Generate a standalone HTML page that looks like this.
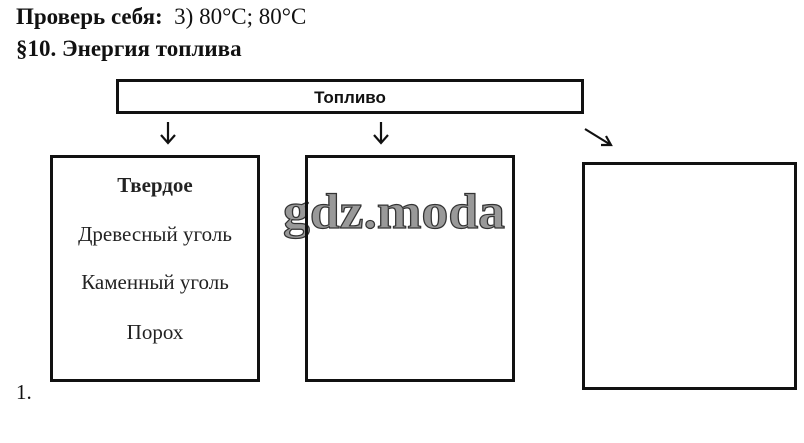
<!DOCTYPE html>
<html><head><meta charset="utf-8"><style>
body{margin:0;width:804px;height:443px;background:#fff;position:relative;overflow:hidden;font-family:"Liberation Serif",serif;color:#111}
.a{position:absolute;white-space:nowrap}
.b{position:absolute;border:3px solid #111;box-sizing:border-box}
.c{position:absolute;text-align:center;font-size:21px;color:#222}
</style></head><body>
<div class="a" style="left:16px;top:4px;font-size:23px"><b>Проверь себя:</b>&nbsp; 3) 80°C; 80°C</div>
<div class="a" style="left:16px;top:36px;font-size:23px;font-weight:bold">§10. Энергия топлива</div>
<div class="b" style="left:116px;top:79px;width:468px;height:35px"></div>
<div class="a" style="left:116px;width:468px;top:88px;text-align:center;font-size:17px;font-weight:bold;font-family:'Liberation Sans',sans-serif">Топливо</div>
<svg class="a" style="left:0;top:0" width="804" height="443">
<g stroke="#111" stroke-width="2.2" fill="none">
<path d="M168 122V143M161 135L168 143L175 135"/>
<path d="M381 122V143M374 135L381 143L388 135"/>
<path d="M585 129L611 145M601 145L611 145L606 136"/>
</g>
<text x="283" y="228" font-family="Liberation Serif" font-size="50" font-weight="bold" textLength="222" lengthAdjust="spacingAndGlyphs" fill="#999" stroke="#333" stroke-width="1.2">gdz.moda</text>
</svg>
<div class="b" style="left:50px;top:155px;width:210px;height:227px"></div>
<div class="b" style="left:305px;top:155px;width:210px;height:227px"></div>
<div class="b" style="left:582px;top:162px;width:215px;height:228px"></div>
<div class="c" style="left:50px;width:210px;top:173px;font-weight:bold">Твердое</div>
<div class="c" style="left:50px;width:210px;top:222px">Древесный уголь</div>
<div class="c" style="left:50px;width:210px;top:270px">Каменный уголь</div>
<div class="c" style="left:50px;width:210px;top:320px">Порох</div>
<div class="a" style="left:16px;top:380px;font-size:21px">1.</div>
</body></html>
